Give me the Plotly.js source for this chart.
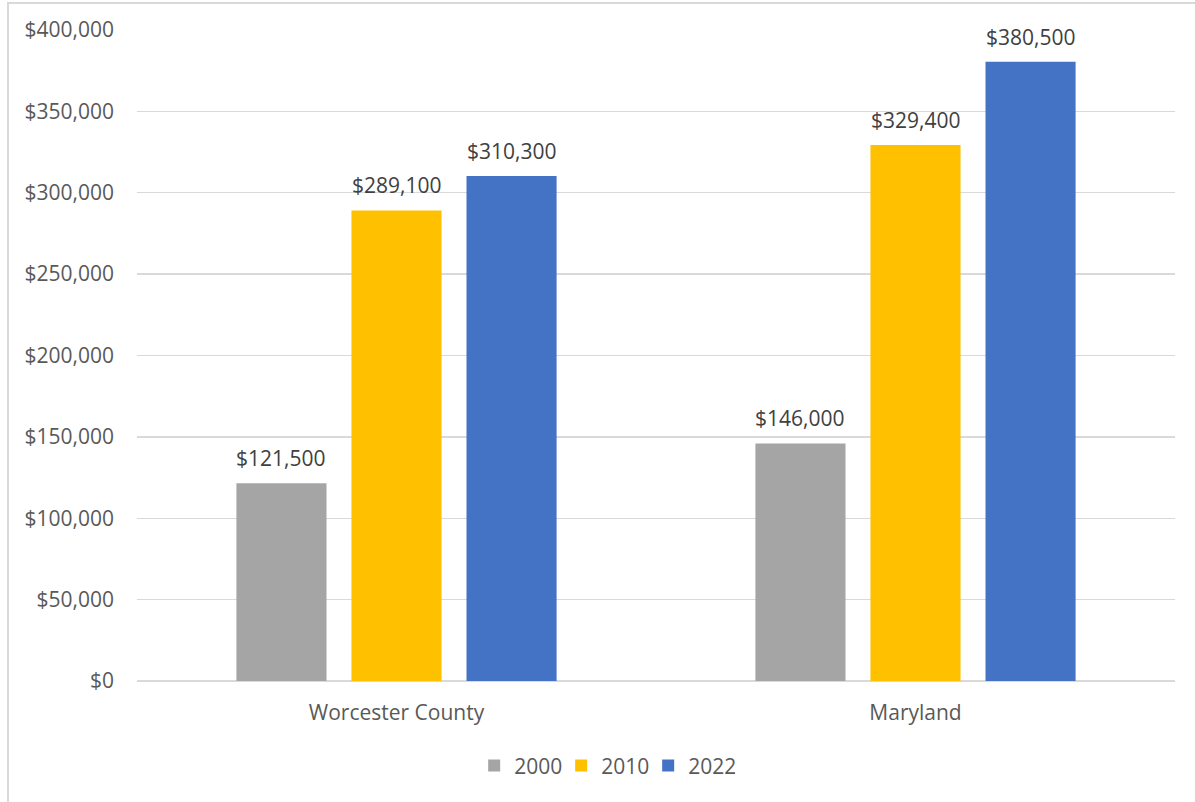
<!DOCTYPE html>
<html><head><meta charset="utf-8">
<script src="https://cdn.plot.ly/plotly-3.0.1.min.js"></script>
<style>
html,body{margin:0;padding:0;background:#fff;overflow:hidden;}
#frame{position:absolute;left:7px;top:2px;width:1200px;height:820px;border:2px solid #d9d9d9;box-sizing:border-box;}
#chart{position:absolute;left:0;top:0;width:1195px;height:802px;}
</style></head>
<body>
<div id="frame"></div>
<div id="chart"></div>
<script>
const categories = ["Worcester County", "Maryland"];
const seriesNames = ["2000", "2010", "2022"];
const values2000 = [121500, 146000];
const values2010 = [289100, 329400];
const values2022 = [310300, 380500];
const colors = ["#a5a5a5", "#ffc000", "#4472c4"];
const allValues = [values2000, values2010, values2022];
const fontFam = '"Open Sans", "Noto Sans", sans-serif';
const fs = 21;

const fmt = v => "$" + v.toLocaleString("en-US");

const bargap = 0.335;
const slotFrac = (1 - bargap) / allValues.length;

const traces = allValues.map((vals, i) => ({
  type: "bar",
  name: seriesNames[i],
  x: categories,
  y: vals,
  marker: {color: colors[i]},
  hoverinfo: "none"
}));

const annotations = [];
allValues.forEach((vals, i) => {
  vals.forEach((v, j) => {
    annotations.push({
      xref: "x", yref: "y",
      x: j + (i - (allValues.length - 1) / 2) * slotFrac,
      y: v,
      text: fmt(v),
      showarrow: false,
      xanchor: "center", yanchor: "bottom",
      yshift: 9,
      font: {family: fontFam, size: fs, color: "#404040"}
    });
  });
});

const layout = {
  width: 1195, height: 802,
  paper_bgcolor: "rgba(0,0,0,0)",
  plot_bgcolor: "rgba(0,0,0,0)",
  margin: {l: 137, r: 20, t: 30, b: 121},
  barmode: "group",
  bargap: bargap,
  bargroupgap: 0.217,
  font: {family: fontFam, size: fs, color: "#595959"},
  xaxis: {
    type: "category",
    showgrid: false, zeroline: false, showline: false,
    ticks: "", tickfont: {family: fontFam, size: fs, color: "#595959"},
    ticklabelstandoff: 17
  },
  yaxis: {
    range: [0, 400000], dtick: 50000,
    tickprefix: "$", tickformat: ",d",
    showgrid: true, gridcolor: "#d9d9d9", gridwidth: 1.3,
    zeroline: true, zerolinecolor: "#d9d9d9", zerolinewidth: 1.3,
    showline: false, ticks: "",
    ticklabelstandoff: 22,
    tickfont: {family: fontFam, size: fs, color: "#595959"}
  },
  annotations: annotations,
  showlegend: true,
  legend: {
    orientation: "h", xref: "container", yref: "container",
    x: 0.506, xanchor: "center", y: 0.045, yanchor: "middle",
    font: {family: fontFam, size: fs, color: "#595959"},
    itemwidth: 30, traceorder: "normal",
    entrywidth: 42, entrywidthmode: "pixels"
  }
};

Plotly.newPlot("chart", traces, layout, {displayModeBar: false, staticPlot: true});
</script>
</body></html>
